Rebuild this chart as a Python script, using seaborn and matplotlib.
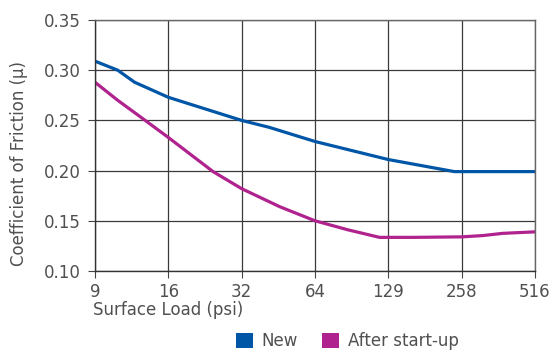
import pandas as pd
import numpy as np
import matplotlib
matplotlib.use('Agg')
import matplotlib.pyplot as plt
from matplotlib.patches import Patch
import seaborn as sns

# Load steps (equal spacing on the chart, one step per doubling)
tick_labels = ['9', '16', '32', '64', '129', '258', '516']

new_pos = [0, 0.31, 0.54, 1.0, 2.0, 2.38, 3.0, 4.0, 4.9, 6.0]
new_cof = [0.309, 0.300, 0.288, 0.273, 0.250, 0.243, 0.229, 0.211, 0.199, 0.199]

after_pos = [0, 0.31, 0.61, 1.0, 1.61, 2.0, 2.52, 3.0, 3.45, 3.88, 4.33, 5.0, 5.29, 5.56, 6.0]
after_cof = [0.288, 0.270, 0.254, 0.233, 0.199, 0.182, 0.164, 0.150, 0.141, 0.1335,
             0.1335, 0.134, 0.1353, 0.1375, 0.139]

colors = {'New': '#0056a6', 'After start-up': '#b0228e'}

df = pd.concat([
    pd.DataFrame({'pos': new_pos, 'cof': new_cof, 'series': 'New'}),
    pd.DataFrame({'pos': after_pos, 'cof': after_cof, 'series': 'After start-up'}),
])

sns.set_style('white')
plt.rcParams['font.family'] = ['DejaVu Sans']
text_color = '#505050'
fs = 12

fig = plt.figure(figsize=(5.52, 3.53), dpi=100)
ax = fig.add_axes([95 / 552, 1 - 271 / 353, 440 / 552, 251 / 353])

sns.lineplot(data=df, x='pos', y='cof', hue='series', palette=colors,
             linewidth=2.3, legend=False, ax=ax)

ax.set_xlim(0, 6)
ax.set_ylim(0.10, 0.35)
ax.set_xticks(range(len(tick_labels)))
ax.set_xticklabels(tick_labels)
yticks = np.arange(0.10, 0.351, 0.05)
ax.set_yticks(yticks)
ax.set_yticklabels([f'{v:.2f}' for v in yticks])
ax.grid(True, color='#3a3a3a', linewidth=0.9)
ax.set_axisbelow(True)
for side, sp in ax.spines.items():
    sp.set_visible(True)
    sp.set_color('#333333' if side in ('left', 'bottom') else '#666666')
    sp.set_linewidth(1.0)
ax.tick_params(axis='both', direction='out', length=5, width=0.8, color='#444444',
               labelsize=fs, labelcolor=text_color, left=True, bottom=True)
ax.tick_params(axis='y', pad=5)
ax.tick_params(axis='x', pad=3.5)

ax.set_ylabel('Coefficient of Friction (µ)', fontsize=fs, color=text_color)
ax.yaxis.set_label_coords(-0.173, 0.43)
ax.yaxis.label.set_verticalalignment('center')
ax.set_xlabel('Surface Load (psi)', fontsize=fs, color=text_color)
ax.xaxis.set_label_coords(-0.005, -0.155)
ax.xaxis.label.set_horizontalalignment('left')
ax.xaxis.label.set_verticalalignment('center')

handles = [Patch(facecolor=c, edgecolor='none', label=k) for k, c in colors.items()]
fig.legend(handles=handles, loc='center left', bbox_to_anchor=(236 / 552, 1 - 341 / 353),
           ncol=2, frameon=False, fontsize=fs, handlelength=1.0, handleheight=1.0,
           handletextpad=0.55, columnspacing=1.45, labelcolor=text_color,
           borderpad=0, borderaxespad=0)

fig.savefig('out.png', dpi=100)
